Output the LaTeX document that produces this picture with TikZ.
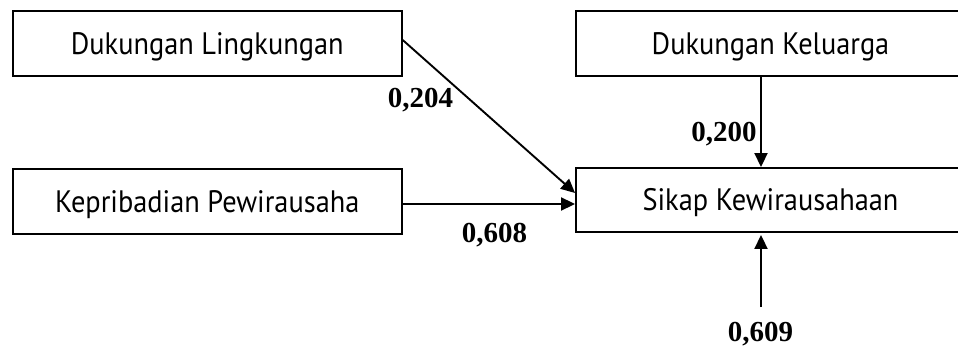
\documentclass[tikz,border=0pt]{standalone}
\usepackage{fontspec}
\setmainfont{Liberation Serif}
\newfontfamily\boxfont[FakeStretch=0.915]{PT Sans}
\usetikzlibrary{arrows.meta}
\begin{document}
\begin{tikzpicture}[x=1pt,y=-1pt,
  varbox/.style={draw, line width=1.9pt, minimum width=389pt, minimum height=65pt,
    inner sep=0pt, text height=22pt, text depth=0pt,
    font=\boxfont\fontsize{31}{33}\selectfont},
  coef/.style={anchor=base, inner sep=0pt, font=\bfseries\fontsize{29}{30}\selectfont},
  arr/.style={line width=1.9pt, -{Triangle[length=14pt,width=13pt]}}]
  \useasboundingbox (0,0) rectangle (958,347);
  \clip (0,0) rectangle (958,347);
  % variables
  \node[varbox] (L) at (207.25,43.5) {Dukungan Lingkungan};
  \node[varbox] (K) at (770.5,43.5) {Dukungan Keluarga};
  \node[varbox] (P) at (207.25,201.5) {Kepribadian Pewirausaha};
  \node[varbox, minimum height=64pt] (S) at (770.5,200) {Sikap Kewirausahaan};
  % path coefficients
  \node[coef] (cL) at (420.5,108) {0,204};
  \node[coef] (cK) at (724,142) {0,200};
  \node[coef] (cP) at (494.5,243) {0,608};
  \node[coef] (cE) at (760.5,341.5) {0,609};
  % paths
  \coordinate (ls) at ([yshift=3.5pt]L.east);
  \coordinate (st) at ([yshift=7pt]S.west);
  \draw[arr] (ls) -- (st);
  \coordinate (pe) at ([yshift=-2.5pt]P.east);
  \draw[arr] (pe) -- (pe -| S.west);
  \coordinate (ks) at ([xshift=-9.5pt]K.south);
  \draw[arr] (ks) -- (ks |- S.north);
  \coordinate (err) at (761,307);
  \draw[arr] (err) -- ([yshift=-2pt]err |- S.south);
\end{tikzpicture}
\end{document}
